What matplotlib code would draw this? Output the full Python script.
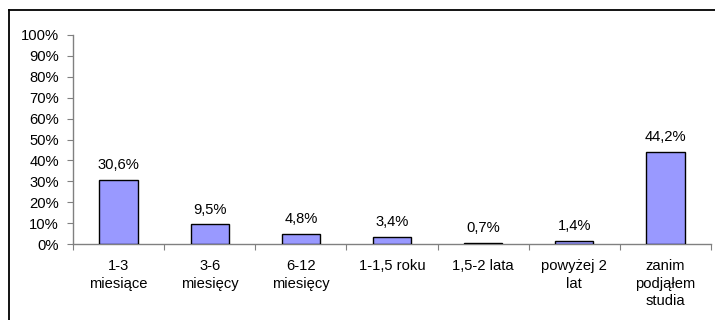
import numpy as np
import matplotlib.pyplot as plt
from matplotlib.lines import Line2D
from matplotlib.ticker import FixedLocator

plt.rcParams['font.family'] = ['Liberation Sans', 'DejaVu Sans']
plt.rcParams['font.size'] = 10.6

categories = ['1-3\nmiesiące', '3-6\nmiesięcy', '6-12\nmiesięcy', '1-1,5 roku',
              '1,5-2 lata', 'powyżej 2\nlat', 'zanim\npodjąłem\nstudia']
values = [30.6, 9.5, 4.8, 3.4, 0.7, 1.4, 44.2]
yticks = np.arange(0, 101, 10)

W, H = 715, 320
fig = plt.figure(figsize=(W / 100, H / 100), dpi=100)

# outer frame (only top and left edges fall inside the image)
fig.add_artist(Line2D([9 / W, 9 / W], [0, 1 - 10 / H], color='black', lw=1.3,
                      transform=fig.transFigure))
fig.add_artist(Line2D([9 / W, 1], [1 - 10 / H, 1 - 10 / H], color='black', lw=1.3,
                      transform=fig.transFigure))

ax = fig.add_axes([73 / W, (H - 244) / H, (711 - 73) / W, (244 - 35) / H])

x = np.arange(len(categories))
ax.bar(x, values, width=0.42, color='#9999FF', edgecolor='black', linewidth=1.0, zorder=3)

for xi, v in zip(x, values):
    ax.annotate(f'{v:.1f}'.replace('.', ',') + '%', (xi, v), xytext=(0, 5.5),
                textcoords='offset points', ha='center', va='bottom')

ax.set_xlim(-0.5, len(categories) - 0.5)
ax.set_ylim(0, 100)
ax.set_yticks(yticks)
ax.set_yticklabels([f'{t}%' for t in yticks])

ax.xaxis.set_major_locator(FixedLocator(np.arange(len(categories) + 1) - 0.5))
ax.xaxis.set_major_formatter(plt.NullFormatter())
ax.xaxis.set_minor_locator(FixedLocator(x))
ax.set_xticklabels(categories, minor=True, linespacing=1.3, va='top')
ax.tick_params(axis='x', which='minor', length=0, pad=11)
ax.tick_params(axis='x', which='major', length=4, color='#808080')
ax.tick_params(axis='y', length=4, color='#808080', pad=6)

for s in ['top', 'right']:
    ax.spines[s].set_visible(False)
for s in ['left', 'bottom']:
    ax.spines[s].set_color('#808080')
    ax.spines[s].set_linewidth(1.0)

fig.savefig('out.png', dpi=100)
